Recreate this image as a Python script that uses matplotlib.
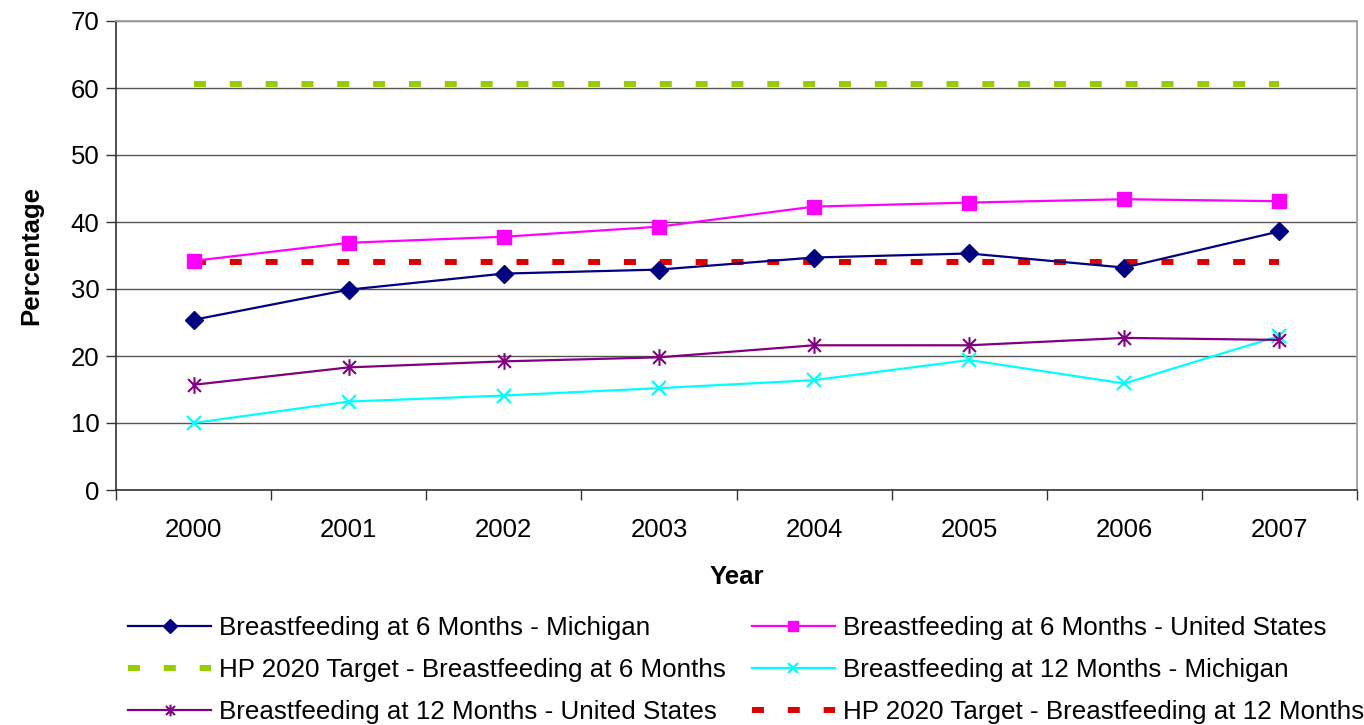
import matplotlib
matplotlib.use("Agg")
import matplotlib.pyplot as plt
from matplotlib.path import Path
import numpy as np

plt.rcParams['font.family'] = ['Liberation Sans', 'DejaVu Sans']

years = ["2000", "2001", "2002", "2003", "2004", "2005", "2006", "2007"]
mi_6mo = [25.4, 29.9, 32.3, 32.9, 34.7, 35.3, 33.2, 38.6]
us_6mo = [34.2, 36.9, 37.8, 39.3, 42.3, 42.9, 43.4, 43.1]
hp_6mo = [60.6] * 8
mi_12mo = [10.0, 13.2, 14.1, 15.2, 16.4, 19.4, 15.9, 23.0]
us_12mo = [15.7, 18.3, 19.2, 19.8, 21.6, 21.6, 22.7, 22.4]
hp_12mo = [34.1] * 8

labels = [
    "Breastfeeding at 6 Months - Michigan",
    "Breastfeeding at 6 Months - United States",
    "HP 2020 Target - Breastfeeding at 6 Months",
    "Breastfeeding at 12 Months - Michigan",
    "Breastfeeding at 12 Months - United States",
    "HP 2020 Target - Breastfeeding at 12 Months",
]

star = Path([(-1, -1), (1, 1), (-1, 1), (1, -1), (0, -1.3), (0, 1.3)],
            [Path.MOVETO, Path.LINETO, Path.MOVETO, Path.LINETO, Path.MOVETO, Path.LINETO])

fig = plt.figure(figsize=(13.64, 7.25), dpi=100)
ax = fig.add_axes([116/1364, 1 - 490/725, (1357-116)/1364, (490-21)/725])

x = np.arange(len(years))
dash_style = dict(linestyle=(0, (2, 4)), linewidth=4.3, dash_capstyle='butt')

h1, = ax.plot(x, mi_6mo, color='#000080', lw=1.6, marker='D', ms=9.5, label=labels[0], zorder=5)
h2, = ax.plot(x, us_6mo, color='#FF00FF', lw=1.6, marker='s', ms=9.5, label=labels[1], zorder=5)
h3, = ax.plot(x, hp_6mo, color='#99CC00', label=labels[2], zorder=4, **dash_style)
h4, = ax.plot(x, mi_12mo, color='#00FFFF', lw=1.6, marker='x', ms=10.5, mew=1.6, label=labels[3], zorder=5)
h5, = ax.plot(x, us_12mo, color='#800080', lw=1.6, marker=star, ms=12, mew=1.5, label=labels[4], zorder=5)
h6, = ax.plot(x, hp_12mo, color='#DD0000', label=labels[5], zorder=4, **dash_style)

ax.set_xlim(-0.5, len(years) - 0.5)
ax.set_ylim(0, 70)
ax.set_yticks(np.arange(0, 71, 10))
ax.tick_params(axis='y', labelsize=18.5, length=7, width=1, direction='out', pad=5, color='#333333')
ax.set_xticks(x)
ax.set_xticklabels(years)
ax.tick_params(axis='x', which='major', length=0, labelsize=18.5, pad=20)
ax.set_xticks(np.arange(-0.5, len(years), 1), minor=True)
ax.tick_params(axis='x', which='minor', length=7, width=1, direction='out', color='#333333')

ax.grid(axis='y', color='#555555', lw=1)
ax.set_axisbelow(True)
for s in ['top', 'right']:
    ax.spines[s].set_color('#A0A0A0')
    ax.spines[s].set_linewidth(1.3)
for s in ['left', 'bottom']:
    ax.spines[s].set_color('#333333')
    ax.spines[s].set_linewidth(1.2)

ax.set_ylabel("Percentage", fontsize=18.5, fontweight='bold', labelpad=20)
ax.set_xlabel("Year", fontsize=18.5, fontweight='bold', labelpad=17)

handles = [h1, h3, h5, h2, h4, h6]
lab = [h.get_label() for h in handles]
fig.legend(handles, lab, loc='upper left', bbox_to_anchor=(128/1364, 1 - 616/725),
           ncol=2, frameon=False, fontsize=18.7, handlelength=3.2, handletextpad=0.3,
           columnspacing=1.0, labelspacing=0.7, borderpad=0, borderaxespad=0,
           markerscale=0.7)

fig.savefig("out.png", dpi=100)
